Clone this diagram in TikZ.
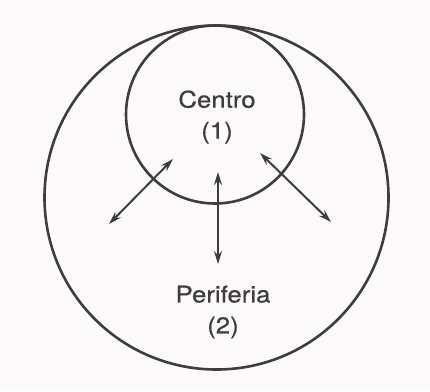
\documentclass[tikz,border=0pt]{standalone}
\usepackage{fontspec}
\setmainfont{TeX Gyre Heros}[FakeStretch=1.12,FakeBold=0.6]
\usetikzlibrary{arrows.meta}
\definecolor{paper}{RGB}{252,249,250}
\definecolor{ink}{RGB}{64,60,61}

\begin{document}
\begin{tikzpicture}[x=1pt,y=-1pt,
  ring/.style={draw=ink,line width=2.6pt,circle,inner sep=0pt},
  label/.style={text=ink,align=center,font=\fontsize{23}{31}\selectfont},
  flow/.style={draw=ink,line width=2pt,{Stealth[length=13pt,width=8pt]}-{Stealth[length=13pt,width=8pt]}}]
  \fill[paper] (0,0) rectangle (430,391);
  \useasboundingbox (0,0) rectangle (430,391);
  % periferia
  \node[ring,minimum size=344pt] (periferia) at (216.5,197.5) {};
  % centro
  \node[ring,minimum size=178pt] (centro) at (215,114.5) {};
  \node[label] (centrotxt) at (217,117) {Centro\\(1)};
  \node[label] (periftxt) at (223,312) {Periferia\\(2)};
  % flows
  \coordinate (l1) at (173,159);
  \coordinate (l2) at (109,224);
  \coordinate (m1) at (218,172);
  \coordinate (m2) at (218,264);
  \coordinate (r1) at (260,153);
  \coordinate (r2) at (331,222);
  \draw[flow] (l1) -- (l2);
  \draw[flow] (m1) -- (m2);
  \draw[flow] (r1) -- (r2);
\end{tikzpicture}
\end{document}
